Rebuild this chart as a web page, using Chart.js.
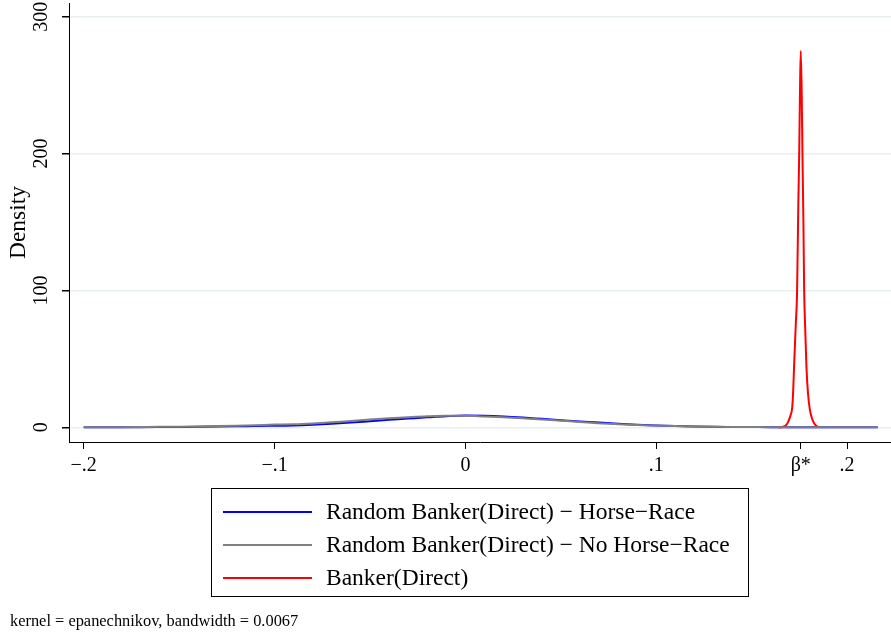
<!DOCTYPE html>
<html>
<head>
<meta charset="utf-8">
<script src="https://cdn.jsdelivr.net/npm/chart.js@4.4.1/dist/chart.umd.min.js"></script>
<style>
  html, body { margin: 0; padding: 0; background: #fff; }
</style>
</head>
<body>
<canvas id="kdensity" width="891" height="635"></canvas>
<script>
// kernel density estimates
const xGrid = [-0.20, -0.19, -0.18, -0.17, -0.16, -0.15, -0.14, -0.13, -0.12, -0.11,
  -0.10, -0.09, -0.08, -0.07, -0.06, -0.05, -0.04, -0.03, -0.02, -0.01,
  0.00, 0.01, 0.02, 0.03, 0.04, 0.05, 0.06, 0.07, 0.08, 0.09,
  0.10, 0.11, 0.12, 0.13, 0.14, 0.15, 0.16, 0.17, 0.18, 0.19,
  0.20, 0.21, 0.216];
const horseRace = [0.03, 0.05, 0.08, 0.12, 0.2, 0.3, 0.4, 0.55, 0.75, 1.0,
  1.2, 1.4, 1.9, 2.6, 3.5, 4.5, 5.5, 6.4, 7.3, 8.1,
  8.6, 8.5, 8.0, 7.2, 6.2, 5.2, 4.3, 3.5, 2.6, 1.9,
  1.3, 0.9, 0.6, 0.4, 0.3, 0.2, 0.15, 0.1, 0.08, 0.05,
  0.03, 0.02, 0.01];
const noHorseRace = [0.05, 0.1, 0.15, 0.25, 0.35, 0.5, 0.7, 0.95, 1.25, 1.6,
  2.0, 2.3, 2.9, 3.7, 4.7, 5.7, 6.6, 7.4, 8.1, 8.5,
  8.5, 8.0, 7.4, 6.6, 5.8, 4.9, 4.0, 3.0, 2.3, 1.7,
  1.3, 0.9, 0.65, 0.45, 0.3, 0.2, 0.15, 0.1, 0.08, 0.05,
  0.03, 0.02, 0.01];
const bankerX = [0.1639, 0.1660, 0.1680, 0.1691, 0.1702, 0.1712, 0.1717, 0.1722, 0.1731, 0.1738,
  0.1744, 0.1749, 0.1753, 0.1757, 0.1762, 0.1766, 0.1771, 0.1775, 0.1781, 0.1787,
  0.1795, 0.1805, 0.1815, 0.1827, 0.1840, 0.1853];
const bankerY = [0, 0.3, 1.5, 4, 8, 14, 25, 44, 75, 100,
  160, 200, 245, 275, 245, 200, 150, 100, 70, 44,
  25, 12.7, 7, 3, 1, 0];

const seriesNames = ['Random Banker(Direct) − Horse−Race', 'Random Banker(Direct) − No Horse−Race', 'Banker(Direct)'];
const seriesColors = ['#0000ff', '#808080', '#ff0000'];
const xTickValues = [-0.2, -0.1, 0, 0.1, 0.1757, 0.2];
const xTickLabels = ['−.2', '−.1', '0', '.1', 'β*', '.2'];
const yTickValues = [0, 100, 200, 300];
const note = 'kernel = epanechnikov, bandwidth = 0.0067';

const serif = '"Liberation Serif", "Times New Roman", serif';

function pts(xs, ys) {
  return xs.map((x, i) => ({ x: x, y: ys[i] }));
}

// legend box + note under the plot, drawn like the Stata export
const boxLegend = {
  id: 'boxLegend',
  afterDraw(chart) {
    const c = chart.ctx;
    c.save();
    c.strokeStyle = '#000';
    c.lineWidth = 1;
    c.strokeRect(211.5, 488.5, 537, 108);
    c.font = '23.5px ' + serif;
    c.textBaseline = 'middle';
    chart.data.datasets.forEach((ds, i) => {
      const y = 512 + i * 33;
      c.strokeStyle = ds.borderColor;
      c.lineWidth = 2;
      c.beginPath();
      c.moveTo(223, y);
      c.lineTo(312, y);
      c.stroke();
      c.fillStyle = '#000';
      c.fillText(ds.label, 326, y + 1);
    });
    c.font = '16.4px ' + serif;
    c.fillText(note, 10, 622);
    c.restore();
  }
};

new Chart(document.getElementById('kdensity'), {
  type: 'line',
  data: {
    datasets: [
      { label: seriesNames[0], data: pts(xGrid, horseRace), borderColor: seriesColors[0], order: 1 },
      { label: seriesNames[1], data: pts(xGrid, noHorseRace), borderColor: seriesColors[1], order: 0 },
      { label: seriesNames[2], data: pts(bankerX, bankerY), borderColor: seriesColors[2], order: 0 }
    ]
  },
  options: {
    responsive: false,
    animation: false,
    layout: { padding: { top: 3, right: 0, bottom: 0, left: 0 } },
    elements: {
      point: { radius: 0 },
      line: { borderWidth: 2, fill: false, cubicInterpolationMode: 'monotone' }
    },
    plugins: {
      legend: { display: false },
      tooltip: { enabled: false }
    },
    scales: {
      x: {
        type: 'linear',
        min: -0.2077,
        max: 0.223,
        afterBuildTicks: (scale) => { scale.ticks = xTickValues.map(v => ({ value: v })); },
        afterFit: (scale) => {
          scale.height = 193;
          scale.paddingLeft = 0;
          scale.paddingRight = 0;
        },
        ticks: {
          callback: (value, index) => xTickLabels[index],
          color: '#000',
          font: { family: serif, size: 20 },
          padding: 5,
          maxRotation: 0,
          autoSkip: false
        },
        grid: { drawOnChartArea: false, tickLength: 7, tickColor: '#000', color: '#000' },
        border: { color: '#000', width: 1 }
      },
      y: {
        type: 'linear',
        min: -10.7,
        max: 310,
        afterBuildTicks: (scale) => { scale.ticks = yTickValues.map(v => ({ value: v })); },
        afterFit: (scale) => {
          scale.width = 69;
          scale.paddingTop = 0;
          scale.paddingBottom = 0;
        },
        ticks: {
          color: '#000',
          font: { family: serif, size: 20 },
          minRotation: 90,
          maxRotation: 90,
          crossAlign: 'center',
          padding: 5
        },
        grid: { color: '#e9f0f2', lineWidth: 1.5, tickLength: 7, tickColor: '#000' },
        border: { color: '#000', width: 1 },
        title: {
          display: true,
          text: 'Density',
          color: '#000',
          font: { family: serif, size: 23.5 },
          padding: { top: 5, bottom: 0 }
        }
      }
    }
  },
  plugins: [boxLegend]
});
</script>
</body>
</html>
